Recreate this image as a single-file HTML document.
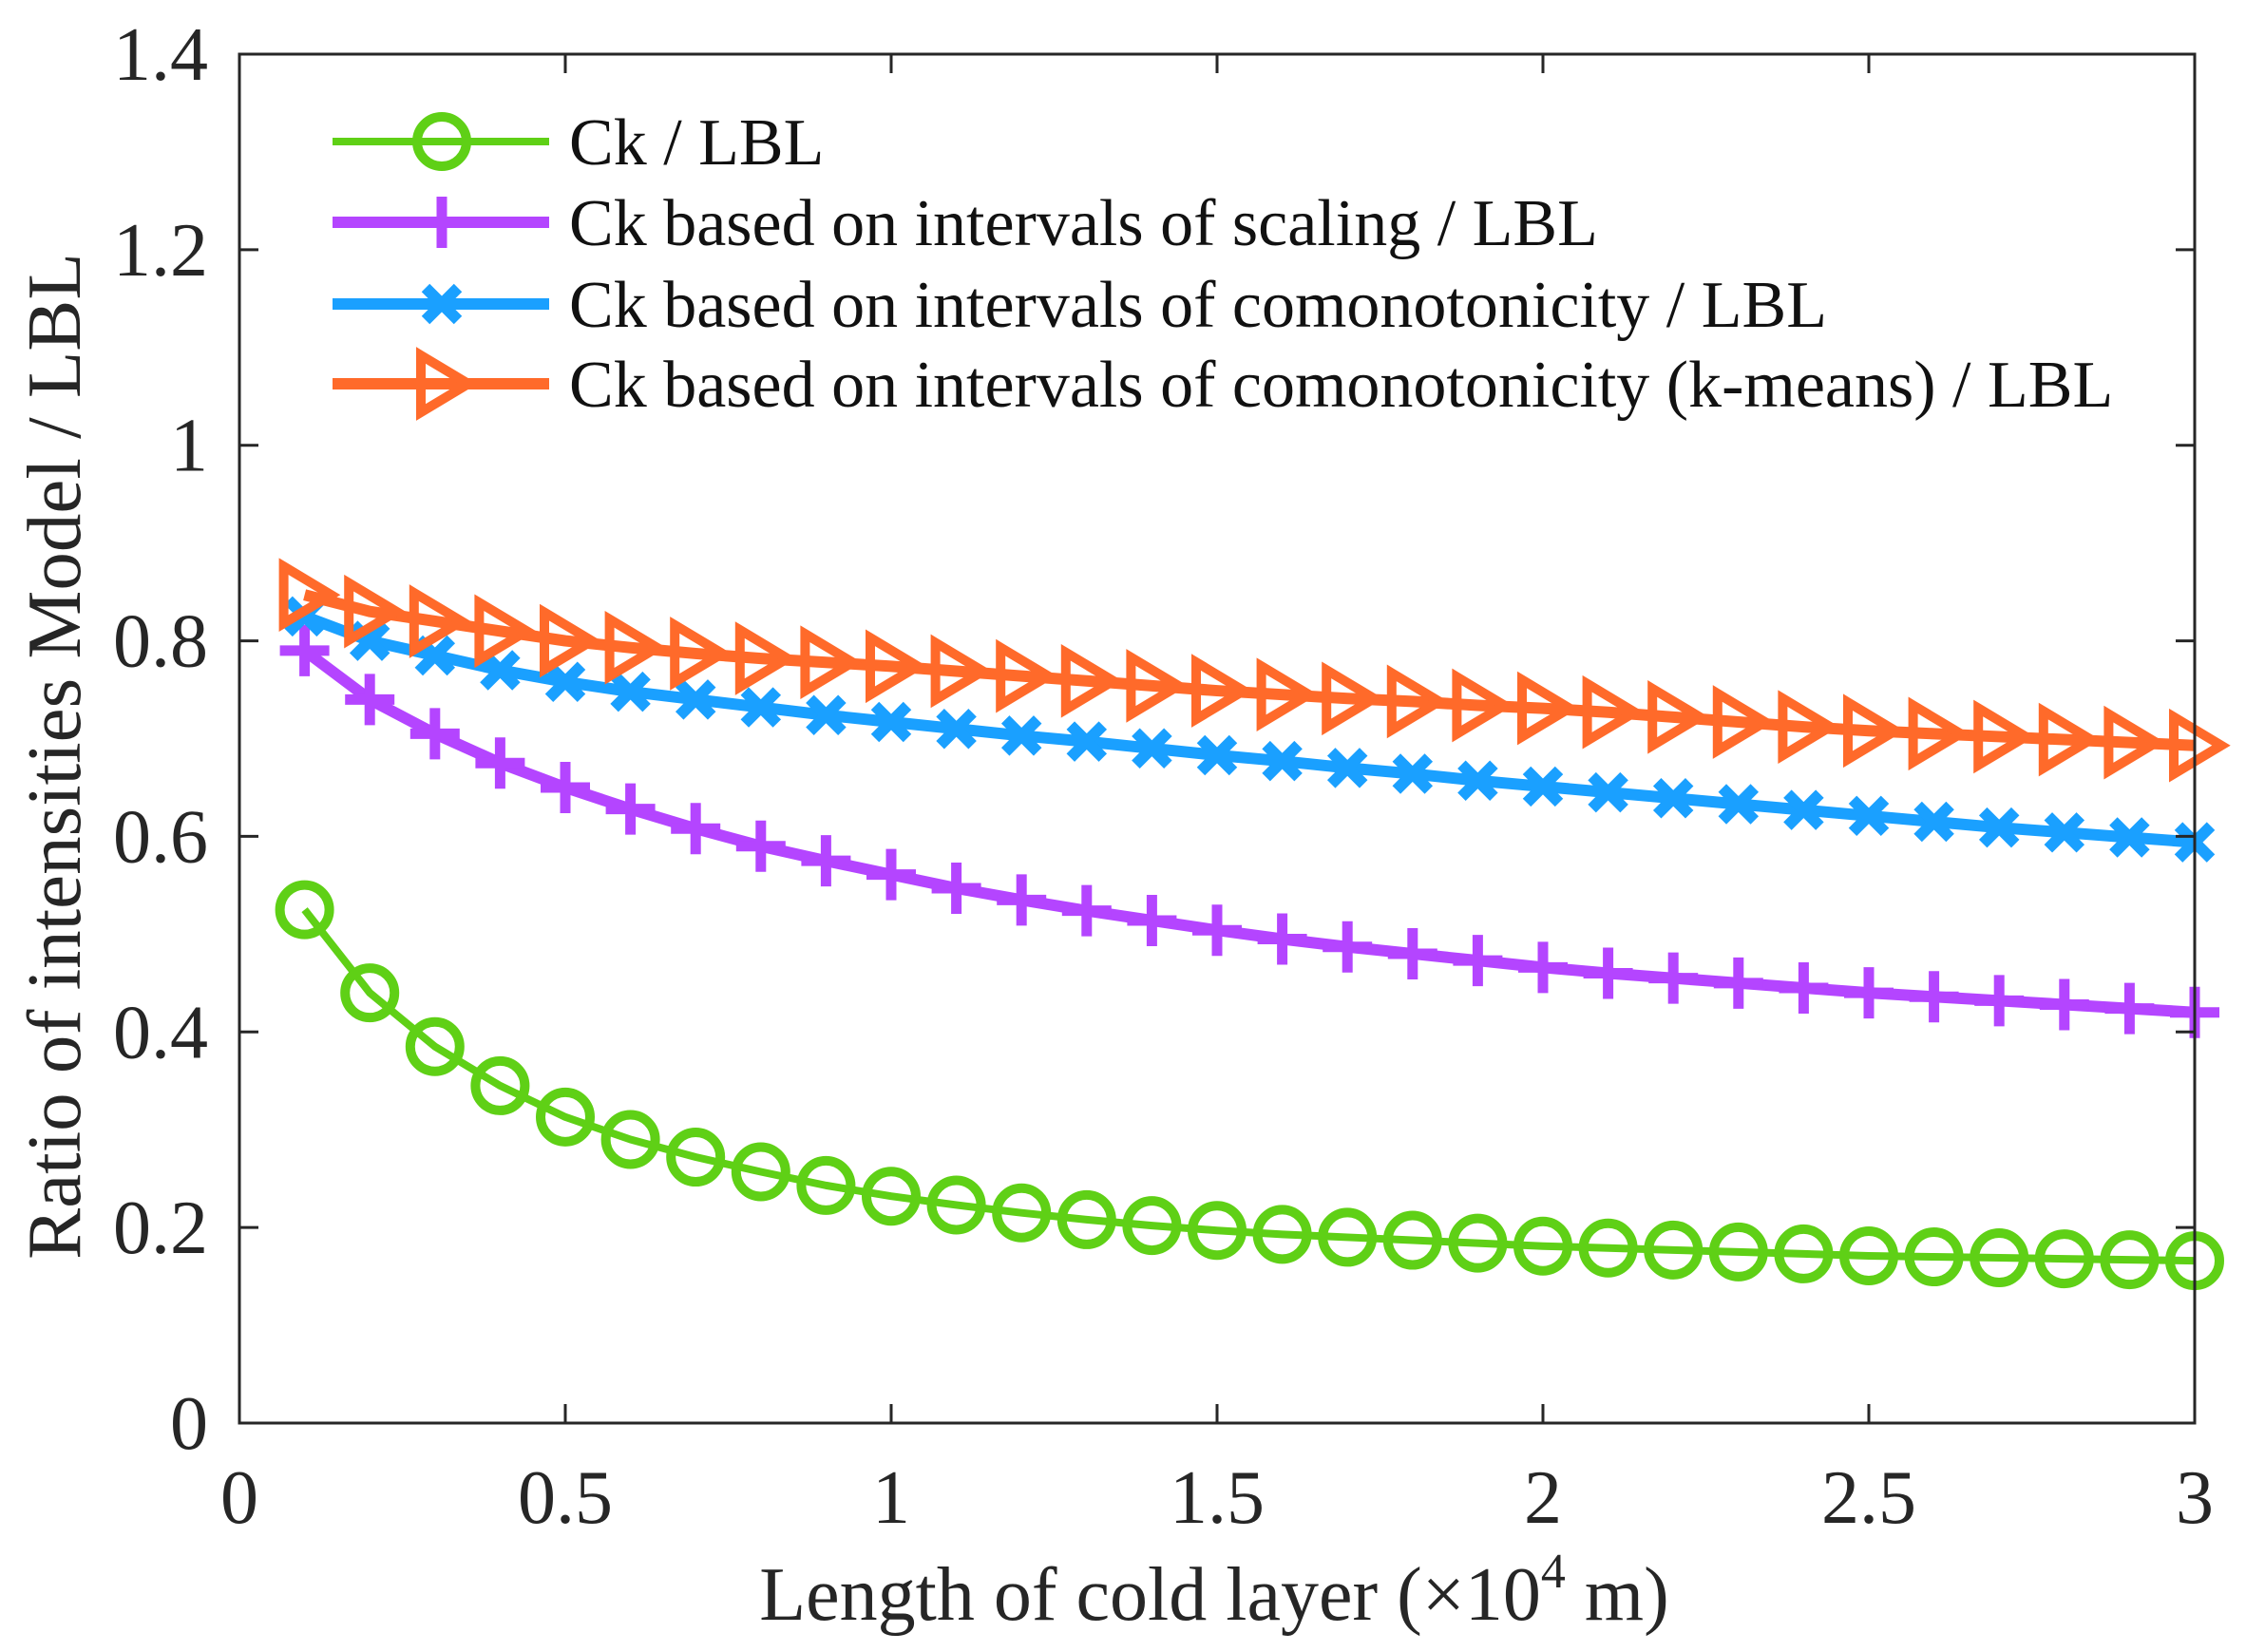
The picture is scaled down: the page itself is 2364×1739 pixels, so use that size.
<!DOCTYPE html>
<html><head><meta charset="utf-8"><style>
html,body{margin:0;padding:0;background:#fff;}
svg{display:block;font-family:"Liberation Serif",serif;}
</style></head><body>
<svg id="chart" width="2364" height="1739" viewBox="0 0 2364 1739" xmlns="http://www.w3.org/2000/svg">
<g id="marks"></g>
<g id="axes"></g>
<g id="legend"></g>
</svg>
<script>
const xValues = [0.1,0.2,0.3,0.4,0.5,0.6,0.7,0.8,0.9,1.0,1.1,1.2,1.3,1.4,1.5,1.6,1.7,1.8,1.9,2.0,2.1,2.2,2.3,2.4,2.5,2.6,2.7,2.8,2.9,3.0];
const greenValues = [0.525,0.44,0.385,0.345,0.313,0.29,0.272,0.257,0.243,0.232,0.223,0.215,0.208,0.202,0.197,0.193,0.19,0.187,0.184,0.181,0.179,0.177,0.175,0.173,0.171,0.17,0.169,0.168,0.167,0.166];
const purpleValues = [0.79,0.74,0.705,0.675,0.65,0.628,0.608,0.59,0.575,0.561,0.547,0.535,0.524,0.514,0.504,0.495,0.487,0.48,0.473,0.466,0.46,0.455,0.45,0.445,0.44,0.436,0.432,0.428,0.424,0.42];
const blueValues = [0.825,0.8,0.785,0.77,0.758,0.748,0.74,0.732,0.724,0.717,0.71,0.703,0.697,0.69,0.683,0.677,0.67,0.664,0.657,0.651,0.645,0.639,0.633,0.627,0.621,0.615,0.609,0.604,0.599,0.594];
const orangeValues = [0.847,0.83,0.82,0.81,0.80,0.793,0.787,0.782,0.778,0.774,0.769,0.764,0.759,0.754,0.749,0.745,0.741,0.738,0.734,0.731,0.727,0.722,0.717,0.712,0.708,0.705,0.702,0.699,0.696,0.693];
const xTicks = [0,0.5,1,1.5,2,2.5,3];
const xTickLabels = ["0","0.5","1","1.5","2","2.5","3"];
const yTicks = [0,0.2,0.4,0.6,0.8,1,1.2,1.4];
const yTickLabels = ["0","0.2","0.4","0.6","0.8","1","1.2","1.4"];
const seriesNames = ["Ck / LBL","Ck based on intervals of scaling / LBL","Ck based on intervals of comonotonicity / LBL","Ck based on intervals of comonotonicity (k-means) / LBL"];

const NS="http://www.w3.org/2000/svg";
const L=252,R=2310,T=57,B=1498;
const xs=v=>L+(v-0)/(3-0)*(R-L);
const ys=v=>B-(v-0)/(1.4-0)*(B-T);
function mk(tag,attrs,parent){const e=document.createElementNS(NS,tag);for(const k in attrs)e.setAttribute(k,attrs[k]);parent.appendChild(e);return e;}

const marks=document.getElementById('marks');
const axes=document.getElementById('axes');
const legend=document.getElementById('legend');

function marker(type,x,y,color,parent){
  let e;
  if(type==='circle'){e=mk('circle',{cx:x,cy:y,r:26,fill:'none',stroke:color,'stroke-width':10},parent);}
  else if(type==='plus'){e=mk('path',{d:`M${x-26} ${y}H${x+26}M${x} ${y-27}V${y+27}`,stroke:color,'stroke-width':11,fill:'none'},parent);}
  else if(type==='x'){e=mk('path',{d:`M${x-17} ${y-17}L${x+17} ${y+17}M${x-17} ${y+17}L${x+17} ${y-17}`,stroke:color,'stroke-width':12,fill:'none'},parent);}
  else {e=mk('path',{d:`M${x-22} ${y-30}L${x+28} ${y}L${x-22} ${y+30}Z`,stroke:color,'stroke-width':10,fill:'none','stroke-linejoin':'miter'},parent);}
  
  
  return e;
}

const series=[
 {vals:greenValues,color:'#5fd016',m:'circle',w:8,name:'series-ck-lbl'},
 {vals:purpleValues,color:'#b445ff',m:'plus',w:12,name:'series-scaling'},
 {vals:blueValues,color:'#1aa0ff',m:'x',w:12,name:'series-comonotonicity'},
 {vals:orangeValues,color:'#ff6a2a',m:'tri',w:12,name:'series-kmeans'}
];
series.forEach(s=>{
  const g=mk('g',{},marks);
  
  
  const pts=xValues.map((x,i)=>xs(x)+','+ys(s.vals[i])).join(' ');
  const pl=mk('polyline',{points:pts,fill:'none',stroke:s.color,'stroke-width':s.w,'stroke-linejoin':'round'},g);
  
  
  xValues.forEach((x,i)=>marker(s.m,xs(x),ys(s.vals[i]),s.color,g));
});

const box=mk('rect',{x:L,y:T,width:R-L,height:B-T,fill:'none',stroke:'#262626','stroke-width':3},axes);


xTicks.forEach((t,i)=>{
  const x=xs(t);
  mk('path',{d:`M${x} ${B}V${B-20}M${x} ${T}V${T+20}`,stroke:'#262626','stroke-width':3},axes);
  const tx=mk('text',{x:x,y:1603,'font-size':80,'text-anchor':'middle',fill:'#262626'},axes);
  tx.textContent=xTickLabels[i];
  
  
});
yTicks.forEach((t,i)=>{
  const y=ys(t);
  mk('path',{d:`M${L} ${y}H${L+20}M${R} ${y}H${R-20}`,stroke:'#262626','stroke-width':3},axes);
  const tx=mk('text',{x:219,y:y+27,'font-size':80,'text-anchor':'end',fill:'#262626'},axes);
  tx.textContent=yTickLabels[i];
  
  
});
const xt=mk('text',{x:1278,y:1705,'font-size':80,'text-anchor':'middle',fill:'#262626'},axes);
xt.innerHTML='Length of cold layer (×10<tspan font-size="52" dy="-34">4</tspan><tspan dy="34"> m)</tspan>';


const yt=mk('text',{x:0,y:0,'font-size':81,'text-anchor':'middle',fill:'#262626',transform:'translate(84,796) rotate(-90)'},axes);
yt.textContent='Ratio of intensities Model / LBL';



const rowsY=[149,234,320,404];
series.forEach((s,i)=>{
  const g=mk('g',{},legend);
  
  
  mk('line',{x1:350,x2:578,y1:rowsY[i],y2:rowsY[i],stroke:s.color,'stroke-width':s.w},g);
  marker(s.m,465,rowsY[i],s.color,g);
  const t=mk('text',{x:599,y:rowsY[i]+24,'font-size':70,fill:'#111'},g);
  t.textContent=seriesNames[i];
  
  
});
</script>
</body></html>
